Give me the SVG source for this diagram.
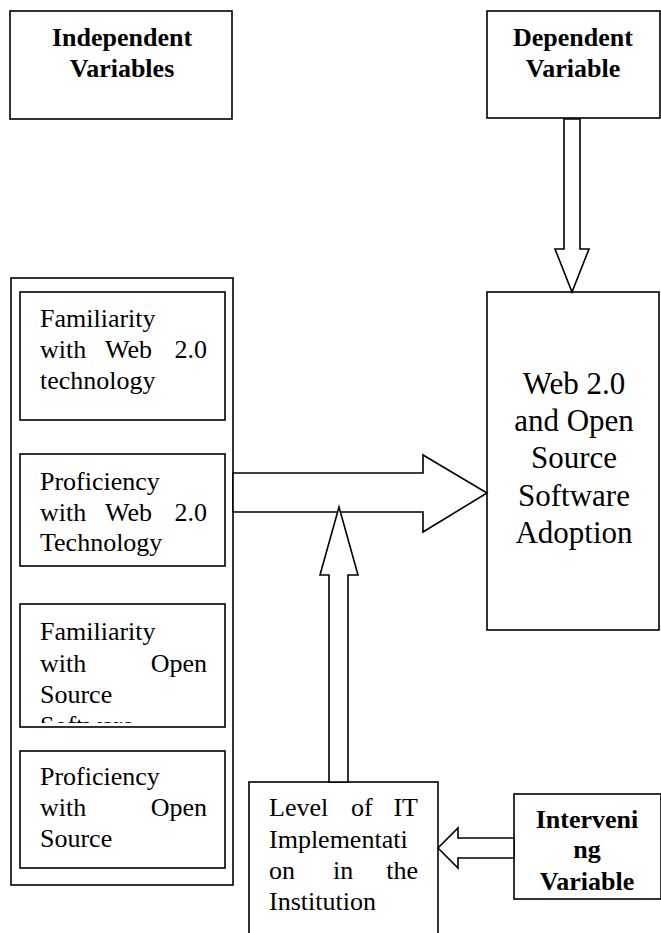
<svg xmlns="http://www.w3.org/2000/svg" width="661" height="933" viewBox="0 0 661 933">
<style>
.box{fill:#fff;stroke:#000;stroke-width:1.6}
.arrow{fill:#fff;stroke:#000;stroke-width:1.6;stroke-linejoin:miter}
.t{font-family:"Liberation Serif","Times New Roman",serif;font-size:26px;fill:#000}
.b{font-family:"Liberation Serif","Times New Roman",serif;font-size:26px;font-weight:bold;fill:#000;text-anchor:middle}
.w{font-family:"Liberation Serif","Times New Roman",serif;font-size:31px;fill:#000;text-anchor:middle}
.e{text-anchor:end}
</style>
<defs>
<clipPath id="clip3"><rect x="20" y="604" width="205" height="119"/></clipPath>
<clipPath id="clipInt"><rect x="514" y="794" width="147" height="98"/></clipPath>
</defs>
<rect width="661" height="933" fill="#fff"/>

<g id="independent">
<rect class="box" x="10" y="11" width="222" height="108"/>
<text class="b" x="122" y="46">Independent</text>
<text class="b" x="122" y="77">Variables</text>
</g>

<g id="dependent">
<rect class="box" x="487" y="11" width="173" height="107"/>
<text class="b" x="573" y="46">Dependent</text>
<text class="b" x="573" y="77">Variable</text>
</g>

<g id="container">
<rect class="box" x="11" y="278" width="222" height="607"/>
</g>

<g id="familiarity-web">
<rect class="box" x="20" y="292" width="205" height="128"/>
<text class="t" x="40" y="327">Familiarity</text>
<text class="t" y="358"><tspan x="40">with</tspan><tspan x="105">Web</tspan></text>
<text class="t e" x="207" y="358">2.0</text>
<text class="t" x="40" y="389">technology</text>
</g>

<g id="proficiency-web">
<rect class="box" x="20" y="454" width="205" height="112"/>
<text class="t" x="40" y="490">Proficiency</text>
<text class="t" y="521"><tspan x="40">with</tspan><tspan x="105">Web</tspan></text>
<text class="t e" x="207" y="521">2.0</text>
<text class="t" x="40" y="551">Technology</text>
</g>

<g id="familiarity-oss">
<rect class="box" x="20" y="604" width="205" height="123"/>
<g clip-path="url(#clip3)">
<text class="t" x="40" y="640">Familiarity</text>
<text class="t" x="40" y="672">with</text>
<text class="t e" x="207" y="672">Open</text>
<text class="t" x="40" y="703">Source</text>
<text class="t" x="40" y="734">Software</text>
</g>
</g>

<g id="proficiency-oss">
<rect class="box" x="20" y="751" width="205" height="117"/>
<text class="t" x="40" y="785">Proficiency</text>
<text class="t" x="40" y="816">with</text>
<text class="t e" x="207" y="816">Open</text>
<text class="t" x="40" y="847">Source</text>
</g>

<g id="adoption">
<rect class="box" x="487" y="292" width="172" height="338"/>
<text class="w" x="574" y="394">Web 2.0</text>
<text class="w" x="574" y="431">and Open</text>
<text class="w" x="574" y="468">Source</text>
<text class="w" x="574" y="506">Software</text>
<text class="w" x="574" y="543">Adoption</text>
</g>

<g id="it-level">
<rect class="box" x="249" y="782" width="189" height="160"/>
<text class="t" x="269" y="816">Level</text>
<text class="t" x="351" y="816">of</text>
<text class="t e" x="418" y="816">IT</text>
<text class="t" x="269" y="848">Implementati</text>
<text class="t" x="269" y="879">on</text>
<text class="t" x="333" y="879">in</text>
<text class="t e" x="418" y="879">the</text>
<text class="t" x="269" y="910">Institution</text>
</g>

<g id="intervening">
<rect class="box" x="514" y="794" width="147" height="105"/>
<g clip-path="url(#clipInt)">
<text class="b" x="587" y="828">Interveni</text>
<text class="b" x="587" y="858">ng</text>
<text class="b" x="587" y="890">Variable</text>
</g>
</g>

<g id="connectors">
<polygon class="arrow" points="564,119 580,119 580,249 589,249 572,292 555,249 564,249"/>
<polygon class="arrow" points="233,473 423,473 423,455 487,493 423,532 423,512 233,512"/>
<polygon class="arrow" points="329,782 329,575 320,575 339,507 358,575 348,575 348,782"/>
<polygon class="arrow" points="514,838 458,838 458,828 438,848 458,868 458,858 514,858"/>
</g>
</svg>
